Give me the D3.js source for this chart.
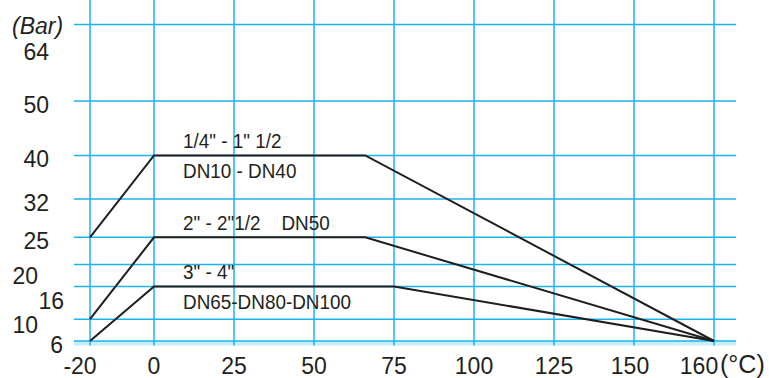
<!DOCTYPE html>
<html lang="en">
<head>
  <meta charset="UTF-8">
  <title>Pressure / temperature</title>
  <script src="https://cdn.jsdelivr.net/npm/d3@7"></script>
  <style>
    body { margin: 0; background: #fff; }
    text { font-family: "Liberation Sans", Arial, sans-serif; fill: #231f20; }
  </style>
</head>
<body>
<div id="grafica"></div>
<script>
// data
xTicks = [-20, 0, 25, 50, 75, 100, 125, 150, 160]
yTicks = [6, 10, 16, 20, 25, 32, 40, 50, 64]

// series: [temperature °C, pressure bar]
small  = [[-20, 25], [0, 40], [66, 40], [160, 6]]
medium = [[-20, 10], [0, 25], [66, 25], [160, 6]]
large  = [[-20, 6],  [0, 16], [75, 16], [160, 6]]

labels = [
  { text: '1/4" - 1" 1/2', at: [0, 40], above: true },
  { text: 'DN10 - DN40', at: [0, 40], above: false },
  { text: '2" - 2"1/2    DN50', at: [0, 25], above: true },
  { text: '3" - 4"', at: [0, 16], above: true },
  { text: 'DN65-DN80-DN100', at: [0, 16], above: false }
]

ancho = 769
alto = 378
blue = '#1ab3ee'

svg = d3.select('#grafica')
        .append('svg')
        .attr('width', ancho)
        .attr('height', alto)

left = 74, right = 736, top = 20, bottom = 345.5
step = 80
zero = 154

// -20..150 linear, 150..160 takes one whole step
x = d3.scaleLinear()
      .domain([-20, 150, 160])
      .range([zero - 20 * step / 25, zero + 6 * step, zero + 7 * step])
y = d3.scaleLinear()
      .domain([6, 64])
      .range([341, 24.5])

// pale bands on top and bottom edges
svg.append('rect').attr('x', left).attr('y', top)
   .attr('width', right - left).attr('height', y(64) - top).attr('fill', '#c9edfb')
svg.append('rect').attr('x', left).attr('y', y(6))
   .attr('width', right - left).attr('height', bottom - y(6)).attr('fill', '#c9edfb')

// grid
svg.selectAll('.vgrid').data(xTicks).enter()
   .append('line')
   .attr('x1', d => x(d)).attr('x2', d => x(d))
   .attr('y1', top).attr('y2', bottom)
   .attr('stroke', blue).attr('stroke-width', 1.5)

svg.selectAll('.hgrid').data(yTicks).enter()
   .append('line')
   .attr('x1', left).attr('x2', right)
   .attr('y1', d => y(d)).attr('y2', d => y(d))
   .attr('stroke', blue).attr('stroke-width', 1.5)

svg.append('rect')
   .attr('x', left).attr('y', top)
   .attr('width', right - left).attr('height', bottom - top)
   .attr('fill', 'none').attr('stroke', blue).attr('stroke-width', 1.5)

// curves
line = d3.line().x(d => x(d[0])).y(d => y(d[1]))
;[small, medium, large].forEach(function(s) {
  svg.append('path')
     .attr('d', line(s))
     .attr('fill', 'none')
     .attr('stroke', '#1e1e1e')
     .attr('stroke-width', 2)
})

// y labels (staggered like the original)
yShift = { 64: [0, 27], 20: [-11, 11], 16: [15, 15], 10: [-11, 6] }
svg.selectAll('.ylab').data(yTicks).enter()
   .append('text')
   .attr('x', d => 49 + (yShift[d] ? yShift[d][0] : 0) + (d == 6 ? 14 : 0))
   .attr('y', d => y(d) + (yShift[d] ? yShift[d][1] : 4))
   .attr('text-anchor', 'end')
   .attr('dominant-baseline', 'central')
   .attr('font-size', 23)
   .text(d => d)

svg.append('text')
   .attr('x', 12).attr('y', 26)
   .attr('dominant-baseline', 'central')
   .attr('font-size', 23)
   .attr('font-style', 'italic')
   .text('(Bar)')

// x labels
xShift = { '-20': -10, 150: -4, 160: -15 }
svg.selectAll('.xlab').data(xTicks).enter()
   .append('text')
   .attr('x', d => x(d) + (xShift[d] || 0))
   .attr('y', 366)
   .attr('text-anchor', 'middle')
   .attr('dominant-baseline', 'central')
   .attr('font-size', 23)
   .text(d => d)

svg.append('text')
   .attr('x', 720).attr('y', 364)
   .attr('dominant-baseline', 'central')
   .attr('font-size', 25)
   .text('(°C)')

// series labels, slightly condensed
svg.selectAll('.lab').data(labels).enter()
   .append('text')
   .attr('transform', d => 'translate(' + (x(d.at[0]) + 29) + ',' +
                           (y(d.at[1]) + (d.above ? -15 : 15)) + ') scale(0.9,1)')
   .attr('dominant-baseline', 'central')
   .attr('font-size', 21)
   .attr('xml:space', 'preserve')
   .style('white-space', 'pre')
   .text(d => d.text)
</script>
</body>
</html>
